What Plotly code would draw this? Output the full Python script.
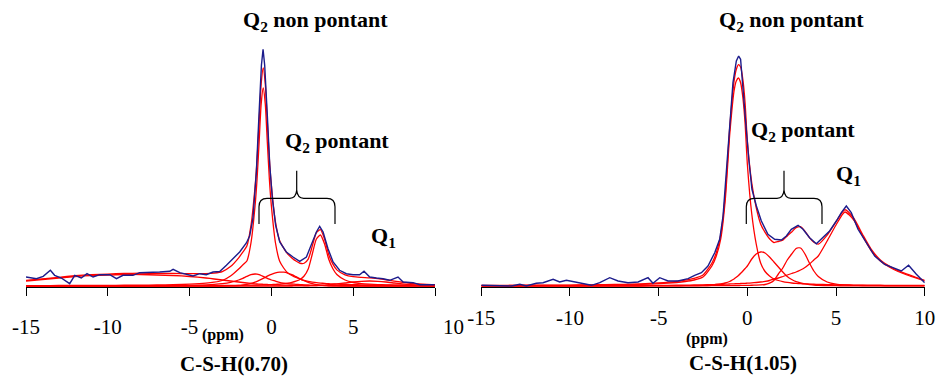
import plotly.graph_objects as go

# ---------------- data ----------------
ppm_grid = [-15, -14, -13, -12, -11, -10, -9, -8, -7, -6, -5, -4, -3.5, -3, -2.5, -2, -1.75, -1.5, -1.25, -1.0,
            -0.875, -0.75, -0.625, -0.5, -0.375, -0.25, -0.125, 0, 0.25, 0.5, 0.75, 1.0, 1.25, 1.5, 1.75, 2.0,
            2.25, 2.5, 2.75, 3.0, 3.25, 3.5, 3.75, 4.0, 4.5, 5, 5.5, 6, 6.5, 7, 7.5, 8, 8.5, 9, 9.5, 10]

# C-S-H(0.70) fitted components
left_q2_non_pontant = [0.4, 0.45, 0.5, 0.55, 0.6, 0.65, 0.75, 0.85, 1.05, 1.3, 1.8, 2.8, 3.8, 5.5, 10, 17, 21, 25, 43, 80,
                       107, 144, 182, 198, 182, 144, 107, 80, 43, 25, 18, 13, 10.5, 8.5, 7, 5.6,
                       4.6, 3.9, 3.3, 2.9, 2.6, 2.3, 2.1, 1.9, 1.6, 1.35, 1.15, 1.0, 0.9, 0.85, 0.8, 0.75, 0.7, 0.65, 0.6, 0.55]
left_shoulder = [0.06, 0.07, 0.08, 0.1, 0.12, 0.15, 0.18, 0.24, 0.32, 0.46, 0.71, 1.2, 1.66, 2.4, 3.7, 6, 7.7, 9.6, 11.3, 12,
                 11.8, 11.3, 10.5, 9.6, 8.7, 7.7, 6.8, 6, 4.9, 3.7, 2.9, 2.4, 2.0, 1.66, 1.4, 1.2,
                 1.03, 0.9, 0.8, 0.71, 0.64, 0.56, 0.51, 0.46, 0.38, 0.33, 0.28, 0.24, 0.21, 0.19, 0.17, 0.15, 0.13, 0.12, 0.11, 0.1]
left_q2_pontant_a = [0, 0, 0, 0, 0, 0, 0, 0, 0, 0, 0, 0, 0, 0.02, 0.12, 0.48, 0.89, 1.54, 2.53, 3.9,
                     4.7, 5.6, 6.6, 7.65, 8.7, 9.8, 10.8, 11.7, 13.2, 13.9, 13.8, 12.9, 11.3, 9.3, 7.2, 5.3,
                     3.6, 2.3, 1.4, 0.79, 0.42, 0.21, 0.1, 0.04, 0, 0, 0, 0, 0, 0, 0, 0, 0, 0, 0, 0]
left_q2_pontant_b = [0.1, 0.1, 0.1, 0.12, 0.13, 0.15, 0.17, 0.2, 0.25, 0.3, 0.35, 0.45, 0.5, 0.55, 0.6, 0.7, 0.75, 0.8, 0.85, 0.9,
                     0.95, 1.0, 1.05, 1.1, 1.15, 1.2, 1.3, 1.4, 1.6, 1.9, 2.3, 2.8, 3.6, 4.8, 6.5, 10,
                     17, 32, 47, 51, 42, 27, 17.5, 11.5, 6, 3.5, 2.4, 1.8, 1.4, 1.1, 0.9, 0.75, 0.65, 0.55, 0.5, 0.45]
left_q1 = [0, 0, 0, 0, 0, 0, 0, 0, 0, 0, 0, 0, 0, 0, 0, 0, 0, 0, 0, 0,
           0, 0, 0, 0, 0, 0, 0, 0, 0, 0, 0, 0, 0, 0.06, 0.1, 0.15,
           0.23, 0.33, 0.48, 0.68, 0.9, 1.24, 1.6, 2.05, 3.0, 4.0, 4.7, 5.0, 4.7, 4.0, 3.0, 2.05, 1.24, 0.68, 0.33, 0.15]
left_broad = [5, 6.5, 8, 9.5, 10.5, 11, 11.5, 11.5, 11, 10.5, 9.5, 8, 7, 6, 5, 4, 3.5, 3, 2.6, 2.2,
              2.0, 1.9, 1.8, 1.7, 1.6, 1.5, 1.4, 1.3, 1.1, 1.0, 0.9, 0.8, 0.7, 0.6, 0.55, 0.5,
              0.45, 0.4, 0.35, 0.3, 0.3, 0.25, 0.25, 0.2, 0.2, 0.15, 0.1, 0.1, 0.1, 0.1, 0.05, 0.05, 0.05, 0.05, 0, 0]

# C-S-H(1.05) fitted components
right_q2_non_pontant = [0.4, 0.45, 0.5, 0.55, 0.6, 0.7, 0.8, 0.95, 1.2, 1.6, 2.3, 3.5, 4.5, 6, 9, 20, 30, 47, 85, 150,
                        175, 195, 205, 208, 203, 188, 162, 122, 72, 42, 23, 14.5, 10, 7, 5.5, 4.4,
                        3.6, 3.0, 2.6, 2.3, 2.1, 1.9, 1.75, 1.6, 1.4, 1.2, 1.05, 0.95, 0.9, 0.8, 0.75, 0.7, 0.65, 0.6, 0.57, 0.55]
right_q2_pontant_a = [0, 0, 0, 0, 0, 0, 0, 0, 0, 0, 0.1, 0.2, 0.3, 0.4, 0.6, 1.1, 1.5, 2.1, 3, 4.5,
                      5.7, 7, 8.7, 10.5, 12.7, 15, 17.5, 20, 27, 32, 34, 33, 29, 24, 19, 14,
                      9.5, 6.5, 4.3, 3.0, 2.1, 1.5, 1.0, 0.7, 0.45, 0.3, 0.2, 0.15, 0.12, 0.1, 0.08, 0.06, 0.05, 0.04, 0.03, 0.03]
right_q2_pontant_b = [0.05, 0.05, 0.05, 0.06, 0.06, 0.07, 0.08, 0.09, 0.1, 0.12, 0.14, 0.17, 0.19, 0.21, 0.24, 0.28, 0.3, 0.33, 0.36, 0.4,
                      0.42, 0.45, 0.48, 0.5, 0.53, 0.57, 0.6, 0.65, 0.75, 0.9, 1.1, 1.5, 2.8, 5.5, 12, 18,
                      26, 32, 37.5, 38, 32, 23, 15, 9.5, 4, 1.8, 1.0, 0.7, 0.5, 0.4, 0.3, 0.25, 0.2, 0.18, 0.15, 0.13]
right_q1 = [0.1, 0.12, 0.14, 0.16, 0.18, 0.2, 0.25, 0.3, 0.4, 0.5, 0.6, 0.8, 0.9, 1.0, 1.2, 1.4, 1.5, 1.7, 1.8, 2.0,
            2.1, 2.2, 2.3, 2.4, 2.5, 2.6, 2.7, 2.8, 3.1, 3.5, 4.0, 4.6, 5.5, 7, 8, 9.5,
            11, 12.5, 14, 16, 18.5, 22, 26, 30, 45, 61, 74, 66, 50, 35, 25, 19, 14.5, 11, 8, 5]

# experimental spectra (blue)
left_exp_ppm = [-15.0, -14.36, -13.95, -13.51, -13.25, -12.84, -12.33, -12.02, -11.62, -11.27, -10.90, -10.49, -9.88,
                -9.47, -9.07, -8.46, -8.05, -7.44, -6.83, -6.21, -6.01, -5.60, -5.20, -4.79, -4.38, -3.98, -3.57,
                -3.16, -2.75, -2.35, -1.94, -1.53, -1.33, -1.13, -0.92, -0.76, -0.61, -0.51, -0.41, -0.25, -0.10,
                0.06, 0.26, 0.51, 0.91, 1.32, 1.73, 2.14, 2.44, 2.75, 2.95, 3.16, 3.46, 3.77, 4.17, 4.58, 4.99,
                5.39, 5.66, 6.01, 6.42, 6.82, 7.23, 7.74, 8.05, 8.66, 9.07, 9.98]
left_exp_int = [9.0, 7.3, 9.7, 15.7, 10.7, 8.0, 2.3, 10.7, 8.0, 12.3, 9.0, 11.3, 11.3,
                7.3, 10.7, 10.7, 13.3, 13.3, 14.0, 14.7, 16.7, 13.3, 12.0, 10.0, 12.3, 11.3, 14.0,
                14.5, 20.7, 27.3, 34.0, 43.0, 50.0, 67.3, 114.0, 170.7, 220.7, 236.7, 220.7, 170.7, 120.7,
                87.3, 60.7, 44.0, 34.0, 29.0, 24.7, 29.0, 40.7, 54.0, 59.7, 54.0, 37.3, 24.0, 15.7, 12.3, 11.3,
                11.3, 14.7, 9.0, 8.0, 7.3, 5.7, 9.0, 4.0, 3.3, 1.3, 1.3]
right_exp_ppm = [-15.0, -14.62, -13.87, -13.3, -12.83, -12.46, -11.9, -11.52, -10.95, -10.58, -10.2, -9.73, -9.26,
                 -8.79, -8.32, -7.76, -7.29, -6.73, -6.16, -5.6, -5.32, -4.94, -4.47, -3.91, -3.34, -2.97, -2.59,
                 -2.22, -1.84, -1.56, -1.37, -1.18, -1.0, -0.81, -0.62, -0.49, -0.38, -0.24, -0.09, 0.08, 0.26,
                 0.51, 0.79, 1.16, 1.54, 1.92, 2.2, 2.48, 2.86, 3.14, 3.51, 3.89, 4.27, 4.64, 5.02, 5.3, 5.58,
                 5.86, 6.24, 6.71, 7.18, 7.74, 8.21, 8.68, 9.09, 9.53, 10.0]
right_exp_int = [0.7, 0.7, 0.0, 0.0, 1.7, 0.0, 2.7, 3.3, 6.7, 4.0, 5.7, 4.0, 2.7,
                 0.7, 3.3, 8.3, 5.0, 3.3, 4.0, 8.3, 2.7, 8.3, 5.0, 5.0, 7.3, 10.7, 13.3,
                 20.0, 33.3, 46.7, 70.0, 113.3, 160.0, 203.3, 225.0, 230.0, 226.7, 200.0, 163.3, 126.7, 96.7,
                 80.0, 65.0, 51.7, 46.7, 46.0, 50.0, 56.7, 60.7, 56.7, 48.3, 42.3, 48.3, 55.0, 65.0, 73.3, 80.0,
                 73.3, 56.7, 43.3, 30.0, 21.7, 18.3, 15.0, 20.7, 11.7, 3.3]

tick_vals = [-15, -10, -5, 0, 5, 10]
tick_text = ["-15", "-10", "-5", "0", "5", "10"]
panel_titles = ["C-S-H(0.70)", "C-S-H(1.05)"]

# ---------------- figure ----------------
W, H = 938, 387
RED = "#ff0000"
BLUE = "#1c1c8c"
SERIF = "Liberation Serif"


def px(x):
    return x / W


def py(y):
    return 1 - y / H


fig = go.Figure()

panels = [
    ("x", "y", [left_q2_non_pontant, left_shoulder, left_q2_pontant_a, left_q2_pontant_b, left_q1, left_broad],
     left_exp_ppm, left_exp_int),
    ("x2", "y2", [right_q2_non_pontant, right_q2_pontant_a, right_q2_pontant_b, right_q1],
     right_exp_ppm, right_exp_int),
]

for xa, ya, comps, eppm, eint in panels:
    for comp in comps:
        fig.add_trace(go.Scatter(x=ppm_grid, y=comp, mode="lines", xaxis=xa, yaxis=ya,
                                 line=dict(color=RED, width=1.3, shape="spline", smoothing=0.6),
                                 hoverinfo="skip"))
    fit = [sum(v) for v in zip(*comps)]
    fig.add_trace(go.Scatter(x=ppm_grid, y=fit, mode="lines", xaxis=xa, yaxis=ya,
                             line=dict(color=RED, width=1.3, shape="spline", smoothing=0.6),
                             hoverinfo="skip"))
    fig.add_trace(go.Scatter(x=eppm, y=eint, mode="lines", xaxis=xa, yaxis=ya,
                             line=dict(color=BLUE, width=1.4), hoverinfo="skip"))

left_ticktext = tick_text[:-1] + ["\u00a0" * 7 + tick_text[-1]]

axis_common = dict(range=[-15, 10], showline=True, linecolor="black", linewidth=1,
                   ticks="outside", ticklen=8, tickwidth=1, tickcolor="black",
                   tickvals=tick_vals, showgrid=False, zeroline=False, automargin=False,
                   tickfont=dict(family=SERIF, size=21, color="black"))

y_bottom = py(287)
y_top = py(10)

fig.update_layout(
    width=W, height=H,
    margin=dict(l=0, r=0, t=0, b=0, autoexpand=False),
    paper_bgcolor="white", plot_bgcolor="white",
    showlegend=False,
    font=dict(family=SERIF),
    xaxis=dict(domain=[px(26), px(435)], anchor="y", ticktext=left_ticktext,
               ticklabelstandoff=13, **axis_common),
    xaxis2=dict(domain=[px(481.3), px(924.7)], anchor="y2", ticktext=tick_text,
                ticklabelstandoff=4, **axis_common),
    yaxis=dict(domain=[y_bottom, y_top], range=[-1, 276], visible=False, anchor="x", automargin=False),
    yaxis2=dict(domain=[y_bottom, y_top], range=[-1, 276], visible=False, anchor="x2", automargin=False),
)

labels = [
    ("<b>Q<sub>2</sub> non pontant</b>", 315.3, 20.7, 22),
    ("<b>Q<sub>2</sub> non pontant</b>", 791.8, 20.7, 22),
    ("<b>Q<sub>2</sub> pontant</b>", 337.3, 141.7, 22),
    ("<b>Q<sub>2</sub> pontant</b>", 803.0, 130.7, 22),
    ("<b>Q<sub>1</sub></b>", 383.0, 237.0, 22),
    ("<b>Q<sub>1</sub></b>", 848.3, 175.0, 22),
    ("<b>(ppm)</b>", 223.3, 335.3, 16),
    ("<b>(ppm)</b>", 707.2, 339.2, 16),
    ("<b>" + panel_titles[0] + "</b>", 234.0, 363.5, 21),
    ("<b>" + panel_titles[1] + "</b>", 743.0, 363.3, 21),
]
for text, x, y, size in labels:
    fig.add_annotation(text=text, x=px(x), y=py(y), xref="paper", yref="paper",
                       xanchor="center", yanchor="middle", showarrow=False,
                       font=dict(family=SERIF, size=size, color="black"))


def brace(x0, xm, x1):
    pts = [
        ("M", [(x0, 224)]), ("L", [(x0, 206.7)]), ("Q", [(x0, 198.3), (x0 + 8, 198.3)]),
        ("L", [(xm - 7, 198.3)]), ("Q", [(xm - 0.7, 198.3), (xm, 190)]), ("L", [(xm, 170.7)]),
        ("L", [(xm, 190)]), ("Q", [(xm + 0.7, 198.3), (xm + 7, 198.3)]),
        ("L", [(x1 - 8, 198.3)]), ("Q", [(x1, 198.3), (x1, 206.7)]), ("L", [(x1, 224)]),
    ]
    s = ""
    for cmd, coords in pts:
        s += cmd + " " + " ".join(f"{px(a):.5f},{py(b):.5f}" for a, b in coords) + " "
    return s.strip()


for x0, xm, x1 in [(259, 296.7, 335), (746.3, 784, 822)]:
    fig.add_shape(type="path", path=brace(x0, xm, x1), xref="paper", yref="paper",
                  line=dict(color="black", width=1.2))

fig.write_html("out.html", config={"displayModeBar": False},
               post_script="document.body.style.margin='0px';")
